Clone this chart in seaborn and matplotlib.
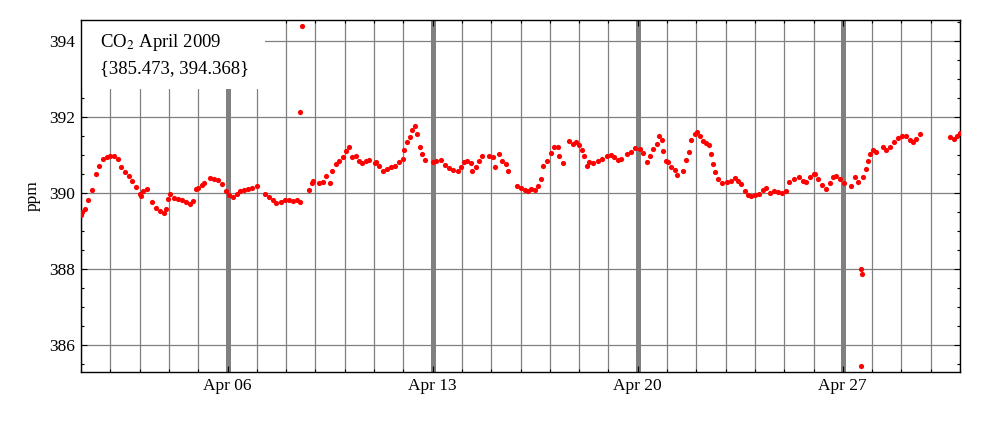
import pandas as pd
import numpy as np
import matplotlib
matplotlib.use('Agg')
import matplotlib.pyplot as plt
import matplotlib.dates as mdates
from matplotlib.patches import Rectangle
from matplotlib.ticker import MultipleLocator
import seaborn as sns

# Medições de CO2 (ppm), abril 2009 - lidas do gráfico
# dias desde 1 abr 00:00
dias = [
    0.0, 0.04, 0.125, 0.25, 0.375, 0.5, 0.625, 0.75, 0.875,
    1.0, 1.125, 1.25, 1.375, 1.5, 1.625, 1.75, 1.875,
    2.0, 2.04, 2.13, 2.26, 2.43, 2.57, 2.71, 2.82, 2.9, 2.97,
    3.05, 3.16, 3.31, 3.45, 3.59, 3.71, 3.82, 3.91, 4.0,
    4.12, 4.21, 4.39, 4.54, 4.68, 4.82, 4.94, 5.06,
    5.18, 5.31, 5.42, 5.56, 5.7, 5.84, 6.0,
    6.29, 6.41, 6.55, 6.66, 6.81, 6.97,
    7.1, 7.22, 7.36, 7.47, 7.49, 7.53, 7.77, 7.88, 7.93,
    8.13, 8.27, 8.36, 8.49, 8.58, 8.69, 8.82, 8.93,
    9.04, 9.16, 9.25, 9.37, 9.48, 9.6, 9.71, 9.83,
    10.02, 10.07, 10.18, 10.3, 10.43, 10.58, 10.73, 10.86, 10.98,
    11.03, 11.11, 11.22, 11.31, 11.4, 11.48, 11.56, 11.65, 11.74,
    12.0, 12.13, 12.28, 12.43, 12.56, 12.7, 12.85, 12.97,
    13.08, 13.19, 13.31, 13.36, 13.48, 13.59, 13.7,
    13.93, 14.07, 14.13, 14.25, 14.38, 14.49, 14.58, 14.89, 15.0,
    15.14, 15.25, 15.36, 15.48, 15.59, 15.7, 15.78, 15.9,
    16.05, 16.16, 16.27, 16.33, 16.44, 16.67, 16.78, 16.9, 16.99,
    17.1, 17.18, 17.26, 17.35, 17.49, 17.63, 17.78, 17.94,
    18.09, 18.2, 18.32, 18.43, 18.63, 18.77, 18.92,
    19.08, 19.19, 19.31, 19.42, 19.53, 19.65, 19.74, 19.83, 19.87, 19.97,
    20.03, 20.15, 20.26, 20.34, 20.55, 20.66, 20.75, 20.83, 20.94,
    21.02, 21.11, 21.23, 21.34, 21.43, 21.51, 21.57, 21.63, 21.74, 21.89,
    22.05, 22.19, 22.31, 22.42, 22.53, 22.65, 22.76, 22.88, 22.99,
    23.14, 23.27, 23.39, 23.52, 23.64, 23.78, 23.93,
    24.07, 24.16, 24.35, 24.5, 24.64, 24.75, 24.89, 25.0,
    25.05, 25.16, 25.28, 25.42, 25.56, 25.67, 25.78, 25.9,
    26.03, 26.29, 26.4, 26.51, 26.63, 26.66, 26.63, 26.69, 26.78, 26.86, 26.94,
    27.03, 27.12, 27.37, 27.49, 27.62, 27.74, 27.89,
    28.03, 28.15, 28.28, 28.4, 28.51, 28.62,
    29.67, 29.78, 29.9, 29.99,
]
ppm = [
    389.43, 389.50, 389.59, 389.81, 390.07, 390.50, 390.72, 390.89, 390.94,
    390.98, 390.98, 390.89, 390.67, 390.54, 390.45, 390.32, 390.16,
    389.96, 389.92, 390.05, 390.10, 389.77, 389.61, 389.52, 389.48, 389.57, 389.83,
    389.96, 389.88, 389.83, 389.81, 389.77, 389.70, 389.79, 390.10, 390.14,
    390.21, 390.25, 390.39, 390.36, 390.35, 390.23, 390.05, 389.95,
    389.89, 389.96, 390.05, 390.08, 390.10, 390.12, 390.18,
    389.96, 389.89, 389.81, 389.73, 389.77, 389.81,
    389.81, 389.79, 389.81, 389.77, 392.13, 394.40, 390.07, 390.27, 390.32,
    390.27, 390.30, 390.45, 390.27, 390.58, 390.76, 390.85, 390.94,
    391.10, 391.22, 390.94, 390.98, 390.85, 390.78, 390.83, 390.87,
    390.78, 390.81, 390.72, 390.57, 390.63, 390.69, 390.72, 390.81, 390.89,
    391.12, 391.34, 391.47, 391.65, 391.75, 391.56, 391.20, 391.03, 390.87,
    390.81, 390.85, 390.87, 390.74, 390.65, 390.60, 390.57, 390.67,
    390.81, 390.85, 390.78, 390.57, 390.69, 390.85, 390.96,
    390.98, 390.94, 390.67, 391.03, 390.83, 390.76, 390.58, 390.19, 390.12,
    390.07, 390.04, 390.10, 390.07, 390.19, 390.36, 390.72, 390.83,
    391.04, 391.20, 391.20, 390.98, 390.78, 391.36, 391.29, 391.34, 391.25,
    391.12, 390.98, 390.72, 390.81, 390.78, 390.85, 390.89, 390.96,
    391.01, 390.94, 390.87, 390.89, 391.03, 391.08, 391.19,
    391.16, 391.04, 390.81, 390.98, 391.16, 391.29, 391.51, 391.38, 391.10, 390.85,
    390.81, 390.69, 390.60, 390.48, 390.58, 390.87, 391.07, 391.38, 391.54,
    391.60, 391.51, 391.36, 391.31, 391.25, 391.03, 390.76, 390.54, 390.36, 390.25,
    390.30, 390.32, 390.39, 390.32, 390.23, 390.04, 389.95, 389.92, 389.95,
    389.96, 390.07, 390.12, 390.01, 390.05, 390.03, 390.01,
    390.05, 390.30, 390.36, 390.41, 390.32, 390.30, 390.41, 390.50,
    390.51, 390.36, 390.21, 390.10, 390.27, 390.43, 390.45, 390.36,
    390.25, 390.19, 390.41, 390.30, 388.01, 387.88, 385.45, 390.41, 390.63, 390.85, 391.03,
    391.13, 391.07, 391.22, 391.13, 391.22, 391.34, 391.45,
    391.49, 391.49, 391.40, 391.34, 391.42, 391.56,
    391.47, 391.42, 391.51, 391.58,
]
faixa = (385.473, 394.368)

inicio = pd.Timestamp('2009-04-01')
df = pd.DataFrame({'tempo': inicio + pd.to_timedelta(dias, unit='D'), 'ppm': ppm})

sns.set_style('ticks')
plt.rcParams['font.family'] = ['Liberation Serif', 'DejaVu Serif']
plt.rcParams['mathtext.fontset'] = 'stix'
for k in ['text.color', 'axes.labelcolor', 'xtick.color', 'ytick.color', 'axes.edgecolor']:
    plt.rcParams[k] = 'black'

fig, ax = plt.subplots(figsize=(10, 4.22), dpi=100)
fig.subplots_adjust(left=0.081, right=0.96, bottom=0.1185, top=0.9526)

sns.scatterplot(x='tempo', y='ppm', data=df, color='red', s=14, linewidth=0,
                edgecolor=None, ax=ax, zorder=3)

# faixa de y com 2% de folga (como o Mathematica)
pad = 0.02 * (faixa[1] - faixa[0])
ax.set_ylim(faixa[0] - pad, faixa[1] + pad)
ax.set_xlim(inicio, pd.Timestamp('2009-05-01'))

ax.xaxis.set_major_locator(mdates.WeekdayLocator(byweekday=mdates.MO))
ax.xaxis.set_minor_locator(mdates.DayLocator())
ax.xaxis.set_major_formatter(mdates.DateFormatter('%b %d'))
ax.yaxis.set_major_locator(MultipleLocator(2))
ax.yaxis.set_minor_locator(MultipleLocator(0.5))

# grade: linhas diárias finas, segundas-feiras grossas
ax.set_axisbelow(True)
ax.grid(which='major', axis='x', color='#808080', lw=3.6)
ax.grid(which='minor', axis='x', color='#808080', lw=0.9)
ax.grid(which='major', axis='y', color='#808080', lw=0.9)

ax.tick_params(which='both', direction='in', top=True, right=True,
               labelsize=12.5, color='black', pad=4)
ax.tick_params(which='major', length=4, width=0.8)
ax.tick_params(which='minor', length=2.5, width=0.8)
for s in ax.spines.values():
    s.set_visible(True)
    s.set_color('black')
    s.set_linewidth(1.0)

ax.set_xlabel('')
ax.set_ylabel('ppm', fontsize=12.5, labelpad=6)

# caixa branca do rótulo
ax.add_patch(Rectangle((0, 1 - 0.196), 0.209, 0.196, transform=ax.transAxes,
                       facecolor='white', edgecolor='none', zorder=1))
ax.text(0.0216, 0.922, r'CO$_2$ April 2009', transform=ax.transAxes,
        fontsize=13.5, va='baseline', ha='left', zorder=4)
ax.text(0.0216, 0.850, '{%.3f, %.3f}' % faixa, transform=ax.transAxes,
        fontsize=13.5, va='baseline', ha='left', zorder=4)

plt.savefig('out.png', dpi=100)
